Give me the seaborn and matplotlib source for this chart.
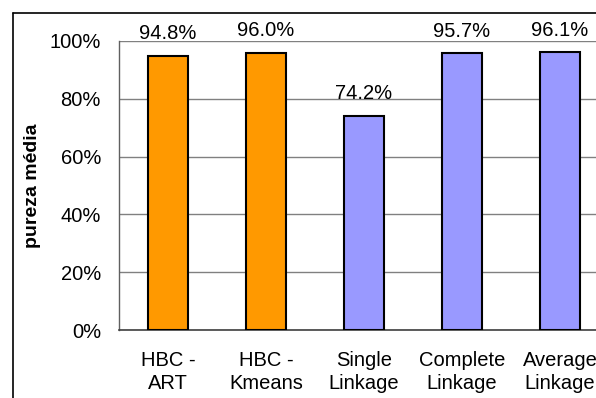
import matplotlib
matplotlib.use("Agg")
import matplotlib.pyplot as plt
from matplotlib.lines import Line2D
from matplotlib.ticker import FuncFormatter, FixedLocator
import seaborn as sns
import pandas as pd

categories = ["HBC -\nART", "HBC -\nKmeans", "Single\nLinkage", "Complete\nLinkage", "Average\nLinkage"]
purity = [94.8, 96.0, 74.2, 95.7, 96.1]
bar_colors = ["#FF9900", "#FF9900", "#9999FF", "#9999FF", "#9999FF"]
y_ticks = [0, 20, 40, 60, 80, 100]

sns.set_theme(style="white")
plt.rcParams["font.family"] = ["Liberation Sans", "DejaVu Sans"]
for key in ["text.color", "axes.labelcolor", "xtick.color", "ytick.color"]:
    plt.rcParams[key] = "black"

df = pd.DataFrame({"metodo": categories, "pureza": purity})

fig = plt.figure(figsize=(5.96, 3.98), dpi=100)
ax = fig.add_axes([119 / 596, 68 / 398, 490 / 596, 289 / 398])

sns.barplot(data=df, x="metodo", y="pureza", hue="metodo",
            palette=dict(zip(categories, bar_colors)), saturation=1, legend=False,
            width=0.4, edgecolor="black", linewidth=1.5, ax=ax, zorder=3)

ax.set_ylim(0, 100)
ax.set_xlim(-0.5, len(categories) - 0.5)
ax.yaxis.set_major_locator(FixedLocator(y_ticks))
ax.yaxis.set_major_formatter(FuncFormatter(lambda v, _: f"{v:.0f}%"))
ax.grid(axis="y", color="#808080", linewidth=1.0, zorder=0)
ax.set_axisbelow(True)

# category boundary ticks on the x axis, labels centred under each bar
ax.set_xticks(range(len(categories)))
ax.set_xticklabels(categories, fontsize=14.5, linespacing=1.3)
ax.tick_params(axis="x", length=0, pad=15)
ax.set_xticks([i - 0.5 for i in range(len(categories) + 1)], minor=True)
ax.tick_params(axis="x", which="minor", length=5, width=1, color="#404040", direction="out")
ax.tick_params(axis="y", length=6, width=1, color="#404040", direction="out", labelsize=14.5, pad=7)
ax.set_ylabel("pureza média", fontsize=14, fontweight="bold", labelpad=6)
ax.set_xlabel("")

for side in ["top", "right"]:
    ax.spines[side].set_visible(False)
ax.spines["left"].set_color("#606060")
ax.spines["bottom"].set_color("#404040")
ax.spines["left"].set_linewidth(1.0)
ax.spines["bottom"].set_linewidth(1.2)

for i, v in enumerate(purity):
    ax.annotate(f"{v:.1f}%", xy=(i, v), xytext=(0, 16), textcoords="offset points",
                ha="center", va="center", fontsize=14.5, annotation_clip=False)

# chart-area border (open on the right and bottom)
fig.add_artist(Line2D([13 / 596, 1.0], [1 - 13 / 398, 1 - 13 / 398], color="black", linewidth=1.2))
fig.add_artist(Line2D([13 / 596, 13 / 596], [0.0, 1 - 13 / 398], color="black", linewidth=1.2))

fig.savefig("out.png", dpi=100)
